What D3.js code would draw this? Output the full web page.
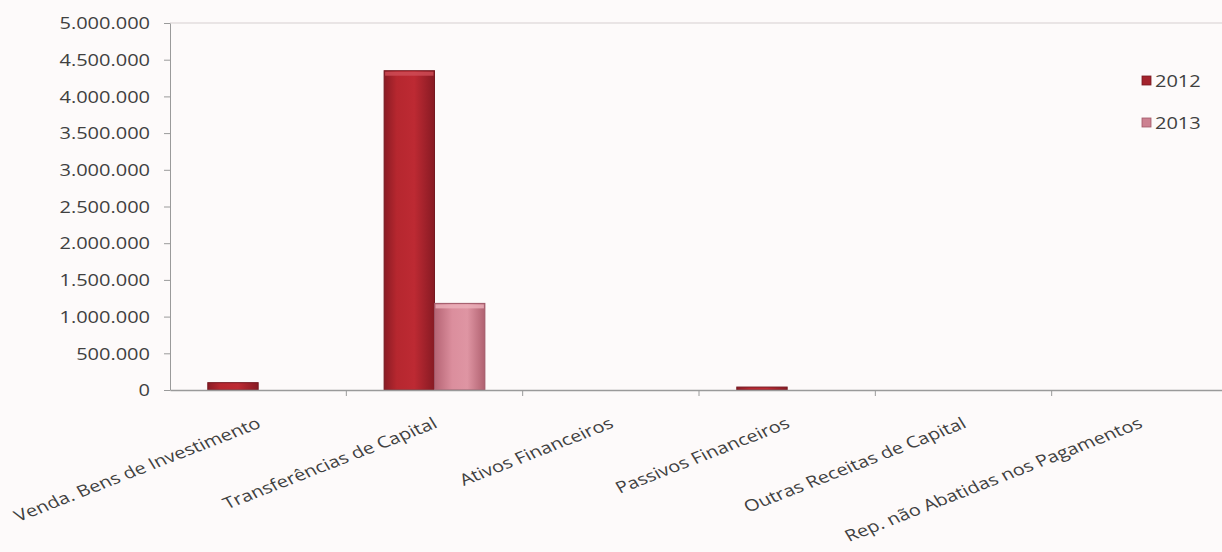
<!DOCTYPE html>
<html>
<head>
<meta charset="utf-8">
<script src="https://cdn.jsdelivr.net/npm/d3@7/dist/d3.min.js"></script>
<style>
  html, body { margin: 0; padding: 0; background: #fdfafa; }
  svg { display: block; }
  text { font-family: "Open Sans", "Noto Sans", sans-serif; fill: #404040; }
</style>
</head>
<body>
<svg id="chart" width="1222" height="552"></svg>
<script>
// Receitas de capital por rubrica
const categories = [
  "Venda. Bens de Investimento",
  "Transferências de Capital",
  "Ativos Financeiros",
  "Passivos Financeiros",
  "Outras Receitas de Capital",
  "Rep. não Abatidas nos Pagamentos"
];
const years = ["2012", "2013"];
const values2012 = [100000, 4350000, 0, 40000, 0, 0];
const values2013 = [0, 1180000, 0, 0, 0, 0];
const yTicks = [0, 500000, 1000000, 1500000, 2000000, 2500000, 3000000, 3500000, 4000000, 4500000, 5000000];

const seriesValues = { "2012": values2012, "2013": values2013 };

const W = 1222, H = 552;
const plot = { left: 170, top: 23, bottom: 390, right: 1228 };
const textStretch = 1.25;  // horizontal text stretch
const labelAngle = 26;     // category label rotation
const fontSize = "16px";

const svg = d3.select("#chart");
const defs = svg.append("defs");

function hGradient(id, stops) {
  const g = defs.append("linearGradient").attr("id", id)
    .attr("x1", "0%").attr("x2", "100%").attr("y1", "0%").attr("y2", "0%");
  stops.forEach(([o, c]) => g.append("stop").attr("offset", o).attr("stop-color", c));
}
hGradient("g2012", [["0%", "#8a1c25"], ["25%", "#b6272f"], ["60%", "#bd2a33"], ["100%", "#871a23"]]);
hGradient("g2013", [["0%", "#b56474"], ["35%", "#db8e9d"], ["65%", "#df95a3"], ["100%", "#b06170"]]);

const fill = { "2012": "url(#g2012)", "2013": "url(#g2013)" };
const stroke = { "2012": "#751820", "2013": "#a05767" };
const capFill = { "2012": "#cf4d57", "2013": "#ecb1bc" };
const legendFill = { "2012": "#a4232d", "2013": "#cc8191" };

const y = d3.scaleLinear().domain([0, 5000000]).range([plot.bottom, plot.top]);
const x = d3.scaleBand().domain(categories).range([plot.left, plot.right]).padding(0);
const xs = d3.scaleBand().domain(years).range([0, x.bandwidth()])
  .paddingInner(0).paddingOuter(0.75);

const ptLocale = d3.formatLocale({ decimal: ",", thousands: ".", grouping: [3], currency: ["€", ""] });
const fmt = ptLocale.format(",");

// top border of plot area
svg.append("line")
  .attr("x1", plot.left).attr("x2", W)
  .attr("y1", y(5000000)).attr("y2", y(5000000))
  .attr("stroke", "#d6cfd0").attr("stroke-width", 1);

// bars
const groups = svg.append("g").selectAll("g")
  .data(categories).join("g")
  .attr("transform", c => `translate(${x(c)},0)`);

groups.selectAll("g.bar")
  .data((c, i) => years.map(yr => ({ yr, v: seriesValues[yr][i] })).filter(d => d.v > 0))
  .join("g").attr("class", "bar")
  .each(function (d) {
    const g = d3.select(this);
    const x0 = xs(d.yr), w = xs.bandwidth();
    const top = y(d.v), h = y(0) - y(d.v);
    g.append("rect")
      .attr("x", x0).attr("y", top).attr("width", w).attr("height", h)
      .attr("fill", fill[d.yr]).attr("stroke", stroke[d.yr]).attr("stroke-width", 1);
    if (h > 10) {
      g.append("rect")
        .attr("x", x0 + 1).attr("y", top + 1).attr("width", w - 2).attr("height", 4)
        .attr("fill", capFill[d.yr]).attr("opacity", 0.8);
    }
  });

// y axis
const yAxis = svg.append("g")
  .attr("transform", `translate(${plot.left},0)`)
  .call(d3.axisLeft(y).tickValues(yTicks).tickFormat(fmt).tickSizeInner(6).tickSizeOuter(0));
yAxis.select(".domain").attr("stroke", "#9a9a9a");
yAxis.selectAll(".tick line").attr("stroke", "#9a9a9a");
yAxis.selectAll(".tick text")
  .attr("x", 0).attr("dy", "0.36em")
  .attr("transform", `translate(-20,0) scale(${textStretch},1)`)
  .style("font-size", fontSize).style("font-family", "'Open Sans', sans-serif")
  .attr("fill", "#404040");

// x axis line
const xAxis = svg.append("g")
  .attr("transform", `translate(0,${y(0)})`)
  .call(d3.axisBottom(x).tickSize(0).tickFormat(""));
xAxis.select(".domain").attr("stroke", "#9a9a9a").attr("stroke-width", 1.5);

// category separator ticks
const bounds = categories.map(c => x(c)).concat([x(categories[categories.length - 1]) + x.bandwidth()]);
svg.append("g").selectAll("line").data(bounds.slice(1)).join("line")
  .attr("x1", d => d).attr("x2", d => d)
  .attr("y1", y(0)).attr("y2", y(0) + 6)
  .attr("stroke", "#9a9a9a");

// category labels, rotated
svg.append("g").selectAll("text").data(categories).join("text")
  .attr("transform", c => `translate(${x(c) + x.bandwidth() / 2 + 4},${y(0) + 37}) scale(${textStretch},1) rotate(${-labelAngle})`)
  .attr("text-anchor", "end")
  .style("font-size", fontSize)
  .text(c => c);

// legend
const legend = svg.append("g").selectAll("g").data(years).join("g")
  .attr("transform", (d, i) => `translate(1142,${81 + i * 42})`);
legend.append("rect")
  .attr("x", 0).attr("y", -5).attr("width", 9).attr("height", 9)
  .attr("fill", d => legendFill[d]).attr("stroke", d => stroke[d]).attr("stroke-width", 0.8);
legend.append("text")
  .attr("transform", `translate(13,0) scale(${textStretch},1)`)
  .attr("dy", "0.36em")
  .style("font-size", fontSize)
  .text(d => d);
</script>
</body>
</html>
